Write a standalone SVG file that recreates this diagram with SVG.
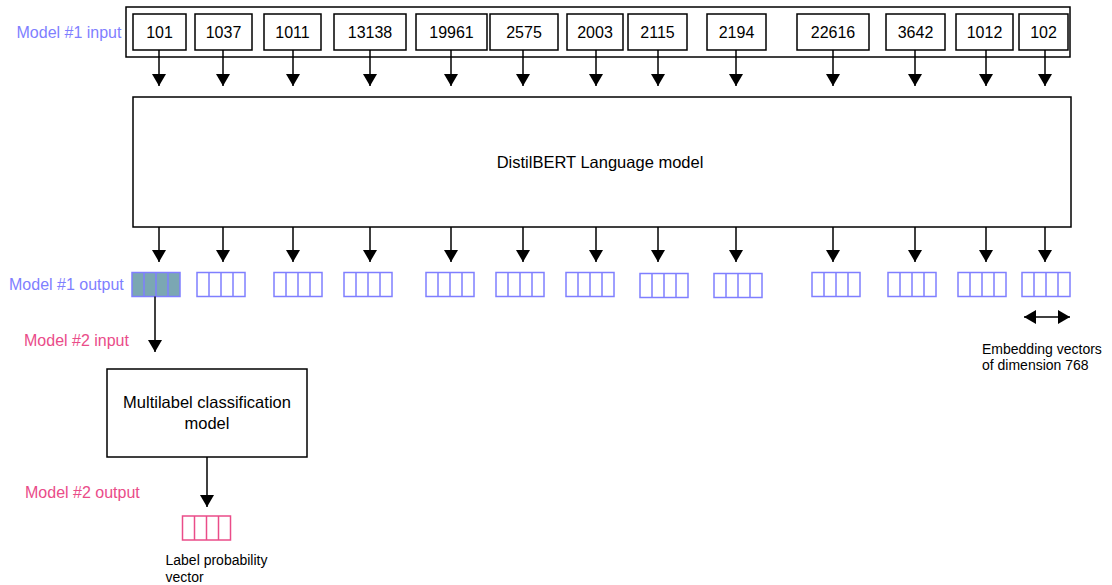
<svg xmlns="http://www.w3.org/2000/svg" width="1112" height="585" viewBox="0 0 1112 585">
<defs>
<marker id="ah" viewBox="0 0 12 14" refX="12" refY="7" markerWidth="12" markerHeight="14" markerUnits="userSpaceOnUse" orient="auto"><path d="M0,0 L12,7 L0,14 Z" fill="#000"/></marker>
<marker id="ahs" viewBox="0 0 12 14" refX="0" refY="7" markerWidth="12" markerHeight="14" markerUnits="userSpaceOnUse" orient="auto"><path d="M12,0 L0,7 L12,14 Z" fill="#000"/></marker>
<g id="vec"><rect x="0" y="0" width="48" height="24"/><path d="M12,0V24M24,0V24M36,0V24"/></g>
</defs>
<style>
text{font-family:"Liberation Sans",Arial,sans-serif}
.box{fill:#fff;stroke:#000;stroke-width:1.5}
.num{font-size:16px;fill:#000;text-anchor:middle}
.big{font-size:16.5px;fill:#000;text-anchor:middle}
.blue{fill:#7f7fff;font-size:16px}
.pink{fill:#ea4c89;font-size:16px}
.v{fill:#fff;stroke:#7f7fff;stroke-width:1.5}
.vf{fill:#7ba7b3;stroke:#7f7fff;stroke-width:1.5}
.vp{fill:#fff;stroke:#ea4c89;stroke-width:1.5}
.c{stroke:#000;stroke-width:1.5;fill:none}
.small{font-size:14px;fill:#000}
</style>
<rect width="1112" height="585" fill="#fff"/>
<g id="input-container"><rect class="box" x="126" y="7" width="944" height="50"/></g>
<g id="tokens">
<g id="t101"><rect class="box" x="133" y="14" width="53" height="36"/><text class="num" x="159.5" y="38">101</text></g>
<g id="t1037"><rect class="box" x="195" y="14" width="57" height="36"/><text class="num" x="223.5" y="38">1037</text></g>
<g id="t1011"><rect class="box" x="264" y="14" width="57" height="36"/><text class="num" x="292.5" y="38">1011</text></g>
<g id="t13138"><rect class="box" x="334" y="14" width="72" height="36"/><text class="num" x="370" y="38">13138</text></g>
<g id="t19961"><rect class="box" x="416" y="14" width="71" height="36"/><text class="num" x="451.5" y="38">19961</text></g>
<g id="t2575"><rect class="box" x="490" y="14" width="68" height="36"/><text class="num" x="524" y="38">2575</text></g>
<g id="t2003"><rect class="box" x="567" y="14" width="56" height="36"/><text class="num" x="595" y="38">2003</text></g>
<g id="t2115"><rect class="box" x="628" y="14" width="59" height="36"/><text class="num" x="657.5" y="38">2115</text></g>
<g id="t2194"><rect class="box" x="707" y="14" width="59" height="36"/><text class="num" x="736.5" y="38">2194</text></g>
<g id="t22616"><rect class="box" x="797" y="14" width="72" height="36"/><text class="num" x="833" y="38">22616</text></g>
<g id="t3642"><rect class="box" x="886" y="14" width="59" height="36"/><text class="num" x="915.5" y="38">3642</text></g>
<g id="t1012"><rect class="box" x="956" y="14" width="57" height="36"/><text class="num" x="984.5" y="38">1012</text></g>
<g id="t102"><rect class="box" x="1019" y="14" width="49" height="36"/><text class="num" x="1043.5" y="38">102</text></g>
</g>
<g id="distilbert"><rect class="box" x="133" y="97" width="938" height="130"/><text class="big" x="600" y="168">DistilBERT Language model</text></g>
<g id="classifier"><rect class="box" x="107" y="369" width="200" height="88"/><text class="big" x="207" y="408">Multilabel classification</text><text class="big" x="207" y="429">model</text></g>
<g id="embeddings">
<use href="#vec" class="vf" x="132" y="272.5"/>
<use href="#vec" class="v" x="197" y="272.5"/>
<use href="#vec" class="v" x="274" y="272.5"/>
<use href="#vec" class="v" x="344" y="272.5"/>
<use href="#vec" class="v" x="426" y="272.5"/>
<use href="#vec" class="v" x="496" y="272.5"/>
<use href="#vec" class="v" x="566" y="272.5"/>
<use href="#vec" class="v" x="640" y="273.5"/>
<use href="#vec" class="v" x="714" y="273.5"/>
<use href="#vec" class="v" x="812" y="272.5"/>
<use href="#vec" class="v" x="888" y="272.5"/>
<use href="#vec" class="v" x="958" y="272.5"/>
<use href="#vec" class="v" x="1022" y="272.5"/>
</g>
<g id="label-vector"><use href="#vec" class="vp" x="182.5" y="516"/></g>
<g id="labels">
<text class="blue" x="16.5" y="38">Model #1 input</text>
<text class="blue" x="9" y="290">Model #1 output</text>
<text class="pink" x="24" y="346">Model #2 input</text>
<text class="pink" x="25" y="498">Model #2 output</text>
<text class="small" x="165.5" y="565">Label probability</text>
<text class="small" x="165.5" y="582">vector</text>
<text class="small" x="982" y="354">Embedding vectors</text>
<text class="small" x="982" y="370">of dimension 768</text>
</g>
<g id="connectors">
<path class="c" marker-end="url(#ah)" d="M159,50V86"/>
<path class="c" marker-end="url(#ah)" d="M223,50V86"/>
<path class="c" marker-end="url(#ah)" d="M293,50V86"/>
<path class="c" marker-end="url(#ah)" d="M370,50V86"/>
<path class="c" marker-end="url(#ah)" d="M451,50V86"/>
<path class="c" marker-end="url(#ah)" d="M523,50V86"/>
<path class="c" marker-end="url(#ah)" d="M596,50V86"/>
<path class="c" marker-end="url(#ah)" d="M658,50V86"/>
<path class="c" marker-end="url(#ah)" d="M736,50V86"/>
<path class="c" marker-end="url(#ah)" d="M833,50V86"/>
<path class="c" marker-end="url(#ah)" d="M915,50V86"/>
<path class="c" marker-end="url(#ah)" d="M986,50V86"/>
<path class="c" marker-end="url(#ah)" d="M1045,50V86"/>
<path class="c" marker-end="url(#ah)" d="M159,227V262"/>
<path class="c" marker-end="url(#ah)" d="M223,227V262"/>
<path class="c" marker-end="url(#ah)" d="M293,227V262"/>
<path class="c" marker-end="url(#ah)" d="M370,227V262"/>
<path class="c" marker-end="url(#ah)" d="M451,227V262"/>
<path class="c" marker-end="url(#ah)" d="M523,227V262"/>
<path class="c" marker-end="url(#ah)" d="M596,227V262"/>
<path class="c" marker-end="url(#ah)" d="M658,227V262"/>
<path class="c" marker-end="url(#ah)" d="M736,227V262"/>
<path class="c" marker-end="url(#ah)" d="M833,227V262"/>
<path class="c" marker-end="url(#ah)" d="M915,227V262"/>
<path class="c" marker-end="url(#ah)" d="M986,227V262"/>
<path class="c" marker-end="url(#ah)" d="M1045,227V262"/>
<path class="c" marker-end="url(#ah)" d="M155,296.5V352"/>
<path class="c" marker-end="url(#ah)" d="M207,457V507"/>
<path class="c" marker-start="url(#ahs)" marker-end="url(#ah)" d="M1024,317H1070"/>
</g>
</svg>
